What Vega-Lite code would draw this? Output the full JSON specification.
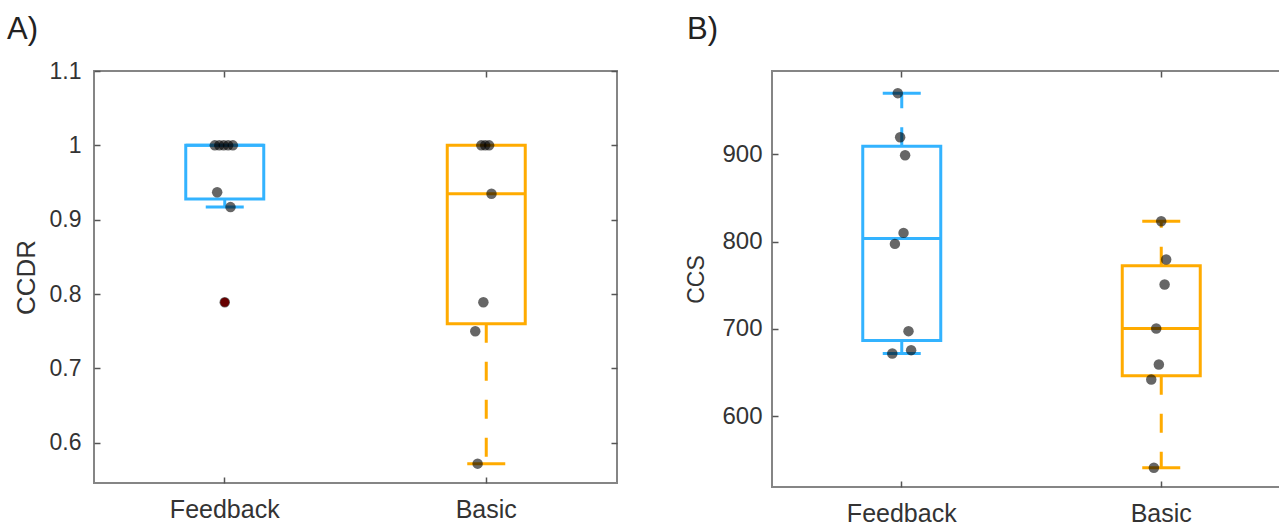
{
  "$schema": "https://vega.github.io/schema/vega-lite/v6.json",
  "background": "white",
  "padding": {"left": 6, "top": 13, "right": 0, "bottom": 0},
  "bounds": "flush",
  "spacing": 155,
  "config": {
    "font": "Liberation Sans",
    "view": {"stroke": "#858585", "strokeWidth": 2},
    "tick": {"opacity": 1},
    "axis": {"domain": false, "grid": false, "tickColor": "#555555", "tickWidth": 1.5, "labelColor": "#333333", "titleColor": "#333333", "titleFontWeight": "normal"}
  },
  "datasets": {
    "boxA": [
      {"group": "Feedback", "lo": 0.917, "q1": 0.928, "med": 1.0, "q3": 1.0, "hi": 1.0},
      {"group": "Basic", "lo": 0.572, "q1": 0.760, "med": 0.935, "q3": 1.0, "hi": 1.0}
    ],
    "ptsA": [
      {"group": "Feedback", "value": 1.0, "jitter": -0.038},
      {"group": "Feedback", "value": 1.0, "jitter": -0.021},
      {"group": "Feedback", "value": 1.0, "jitter": -0.004},
      {"group": "Feedback", "value": 1.0, "jitter": 0.013},
      {"group": "Feedback", "value": 1.0, "jitter": 0.031},
      {"group": "Feedback", "value": 0.937, "jitter": -0.029},
      {"group": "Feedback", "value": 0.917, "jitter": 0.022},
      {"group": "Feedback", "value": 0.789, "jitter": 0.0},
      {"group": "Basic", "value": 1.0, "jitter": -0.019},
      {"group": "Basic", "value": 1.0, "jitter": -0.004},
      {"group": "Basic", "value": 1.0, "jitter": 0.011},
      {"group": "Basic", "value": 0.935, "jitter": 0.020},
      {"group": "Basic", "value": 0.789, "jitter": -0.011},
      {"group": "Basic", "value": 0.750, "jitter": -0.042},
      {"group": "Basic", "value": 0.572, "jitter": -0.033}
    ],
    "outA": [
      {"group": "Feedback", "value": 0.789}
    ],
    "boxB": [
      {"group": "Feedback", "lo": 671.7, "q1": 686.5, "med": 803.6, "q3": 909.2, "hi": 970.0},
      {"group": "Basic", "lo": 540.7, "q1": 646.2, "med": 700.3, "q3": 772.2, "hi": 823.3}
    ],
    "ptsB": [
      {"group": "Feedback", "value": 970.0, "jitter": -0.019},
      {"group": "Feedback", "value": 919.5, "jitter": -0.010},
      {"group": "Feedback", "value": 898.9, "jitter": 0.009},
      {"group": "Feedback", "value": 809.9, "jitter": 0.003},
      {"group": "Feedback", "value": 797.3, "jitter": -0.030},
      {"group": "Feedback", "value": 697.3, "jitter": 0.022},
      {"group": "Feedback", "value": 671.7, "jitter": -0.040},
      {"group": "Feedback", "value": 675.5, "jitter": 0.032},
      {"group": "Basic", "value": 823.3, "jitter": -0.004},
      {"group": "Basic", "value": 779.4, "jitter": 0.015},
      {"group": "Basic", "value": 750.7, "jitter": 0.009},
      {"group": "Basic", "value": 700.3, "jitter": -0.023},
      {"group": "Basic", "value": 659.1, "jitter": -0.013},
      {"group": "Basic", "value": 641.9, "jitter": -0.042},
      {"group": "Basic", "value": 540.7, "jitter": -0.032}
    ]
  },
  "hconcat": [
    {
      "width": 523,
      "height": 412,
      "title": {"text": "A)", "anchor": "start", "frame": "group", "dx": -87, "offset": -10, "baseline": "alphabetic", "fontSize": 31, "fontWeight": "normal", "color": "#222222"},
      "resolve": {"axis": {"x": "independent", "y": "independent"}},
      "layer": [
        {
          "data": {"name": "boxA"},
          "mark": {"type": "rule", "strokeWidth": 3, "strokeDash": [19, 19]},
          "encoding": {
            "x": {"field": "group", "type": "nominal", "sort": ["Feedback", "Basic"], "scale": {"type": "band", "paddingInner": 0, "paddingOuter": 0},
              "axis": {"title": null, "labelAngle": 0, "tickSize": -6, "bandPosition": 0.5, "labelPadding": 20, "labelFontSize": 25}},
            "y": {"field": "q1", "type": "quantitative", "scale": {"domain": [0.546, 1.1], "nice": false, "zero": false},
              "axis": {"title": "CCDR", "values": [0.6, 0.7, 0.8, 0.9, 1, 1.1], "format": ".2~f", "tickSize": -6, "labelPadding": 19, "labelFontSize": 23, "titleFontSize": 26, "titlePadding": 10}},
            "y2": {"field": "lo"},
            "color": {"field": "group", "type": "nominal", "scale": {"domain": ["Feedback", "Basic"], "range": ["#33b3ff", "#ffab00"]}, "legend": null}
          }
        },
        {
          "data": {"name": "boxA"},
          "mark": {"type": "rule", "strokeWidth": 3, "strokeDash": [19, 19]},
          "encoding": {
            "x": {"field": "group", "type": "nominal", "sort": ["Feedback", "Basic"], "axis": {"orient": "top", "labels": false, "title": null, "tickSize": -6, "bandPosition": 0.5}},
            "y": {"field": "q3", "type": "quantitative", "axis": {"orient": "right", "labels": false, "title": null, "values": [0.6, 0.7, 0.8, 0.9, 1, 1.1], "tickSize": -6}},
            "y2": {"field": "hi"},
            "color": {"field": "group", "type": "nominal", "legend": null}
          }
        },
        {
          "data": {"name": "boxA"},
          "mark": {"type": "bar", "filled": false, "width": 78, "strokeWidth": 3},
          "encoding": {
            "x": {"field": "group", "type": "nominal", "sort": ["Feedback", "Basic"], "axis": null},
            "y": {"field": "q1", "type": "quantitative", "axis": null},
            "y2": {"field": "q3"},
            "color": {"field": "group", "type": "nominal", "legend": null}
          }
        },
        {
          "data": {"name": "boxA"},
          "mark": {"type": "tick", "size": 78, "thickness": 3, "opacity": 1},
          "encoding": {
            "x": {"field": "group", "type": "nominal", "sort": ["Feedback", "Basic"], "axis": null},
            "y": {"field": "med", "type": "quantitative", "axis": null},
            "color": {"field": "group", "type": "nominal", "legend": null}
          }
        },
        {
          "data": {"name": "boxA"},
          "mark": {"type": "tick", "size": 38, "thickness": 3, "opacity": 1},
          "encoding": {
            "x": {"field": "group", "type": "nominal", "sort": ["Feedback", "Basic"], "axis": null},
            "y": {"field": "lo", "type": "quantitative", "axis": null},
            "color": {"field": "group", "type": "nominal", "legend": null}
          }
        },
        {
          "data": {"name": "outA"},
          "mark": {"type": "point", "filled": true, "shape": "circle", "size": 80, "opacity": 1, "color": "#ff0000"},
          "encoding": {
            "x": {"field": "group", "type": "nominal", "sort": ["Feedback", "Basic"], "axis": null},
            "y": {"field": "value", "type": "quantitative", "axis": null}
          }
        },
        {
          "data": {"name": "ptsA"},
          "mark": {"type": "point", "filled": true, "shape": "circle", "size": 110, "opacity": 0.6, "color": "#000000"},
          "encoding": {
            "x": {"field": "group", "type": "nominal", "sort": ["Feedback", "Basic"], "axis": null},
            "xOffset": {"field": "jitter", "type": "quantitative", "scale": {"domain": [-0.5, 0.5]}},
            "y": {"field": "value", "type": "quantitative", "axis": null}
          }
        }
      ]
    },
    {
      "width": 519,
      "height": 416,
      "title": {"text": "B)", "anchor": "start", "frame": "group", "dx": -85, "offset": 0, "baseline": "alphabetic", "fontSize": 31, "fontWeight": "normal", "color": "#222222"},
      "resolve": {"axis": {"x": "independent", "y": "independent"}},
      "layer": [
        {
          "data": {"name": "boxB"},
          "mark": {"type": "rule", "strokeWidth": 3, "strokeDash": [19, 19]},
          "encoding": {
            "x": {"field": "group", "type": "nominal", "sort": ["Feedback", "Basic"], "scale": {"type": "band", "paddingInner": 0, "paddingOuter": 0},
              "axis": {"title": null, "labelAngle": 0, "tickSize": -6, "bandPosition": 0.5, "labelPadding": 20, "labelFontSize": 25}},
            "y": {"field": "q1", "type": "quantitative", "scale": {"domain": [518.7, 995.4], "nice": false, "zero": false},
              "axis": {"title": "CCS", "values": [600, 700, 800, 900], "tickSize": -6, "labelPadding": 16, "labelFontSize": 24, "titleFontSize": 23, "titlePadding": 13}},
            "y2": {"field": "lo"},
            "color": {"field": "group", "type": "nominal", "scale": {"domain": ["Feedback", "Basic"], "range": ["#33b3ff", "#ffab00"]}, "legend": null}
          }
        },
        {
          "data": {"name": "boxB"},
          "mark": {"type": "rule", "strokeWidth": 3, "strokeDash": [19, 19]},
          "encoding": {
            "x": {"field": "group", "type": "nominal", "sort": ["Feedback", "Basic"], "axis": {"orient": "top", "labels": false, "title": null, "tickSize": -6, "bandPosition": 0.5}},
            "y": {"field": "q3", "type": "quantitative", "axis": {"orient": "right", "labels": false, "title": null, "values": [600, 700, 800, 900], "tickSize": -6}},
            "y2": {"field": "hi"},
            "color": {"field": "group", "type": "nominal", "legend": null}
          }
        },
        {
          "data": {"name": "boxB"},
          "mark": {"type": "bar", "filled": false, "width": 78, "strokeWidth": 3},
          "encoding": {
            "x": {"field": "group", "type": "nominal", "sort": ["Feedback", "Basic"], "axis": null},
            "y": {"field": "q1", "type": "quantitative", "axis": null},
            "y2": {"field": "q3"},
            "color": {"field": "group", "type": "nominal", "legend": null}
          }
        },
        {
          "data": {"name": "boxB"},
          "mark": {"type": "tick", "size": 78, "thickness": 3, "opacity": 1},
          "encoding": {
            "x": {"field": "group", "type": "nominal", "sort": ["Feedback", "Basic"], "axis": null},
            "y": {"field": "med", "type": "quantitative", "axis": null},
            "color": {"field": "group", "type": "nominal", "legend": null}
          }
        },
        {
          "data": {"name": "boxB"},
          "mark": {"type": "tick", "size": 38, "thickness": 3, "opacity": 1},
          "encoding": {
            "x": {"field": "group", "type": "nominal", "sort": ["Feedback", "Basic"], "axis": null},
            "y": {"field": "lo", "type": "quantitative", "axis": null},
            "color": {"field": "group", "type": "nominal", "legend": null}
          }
        },
        {
          "data": {"name": "boxB"},
          "mark": {"type": "tick", "size": 38, "thickness": 3, "opacity": 1},
          "encoding": {
            "x": {"field": "group", "type": "nominal", "sort": ["Feedback", "Basic"], "axis": null},
            "y": {"field": "hi", "type": "quantitative", "axis": null},
            "color": {"field": "group", "type": "nominal", "legend": null}
          }
        },
        {
          "data": {"name": "ptsB"},
          "mark": {"type": "point", "filled": true, "shape": "circle", "size": 110, "opacity": 0.6, "color": "#000000"},
          "encoding": {
            "x": {"field": "group", "type": "nominal", "sort": ["Feedback", "Basic"], "axis": null},
            "xOffset": {"field": "jitter", "type": "quantitative", "scale": {"domain": [-0.5, 0.5]}},
            "y": {"field": "value", "type": "quantitative", "axis": null}
          }
        }
      ]
    }
  ]
}
